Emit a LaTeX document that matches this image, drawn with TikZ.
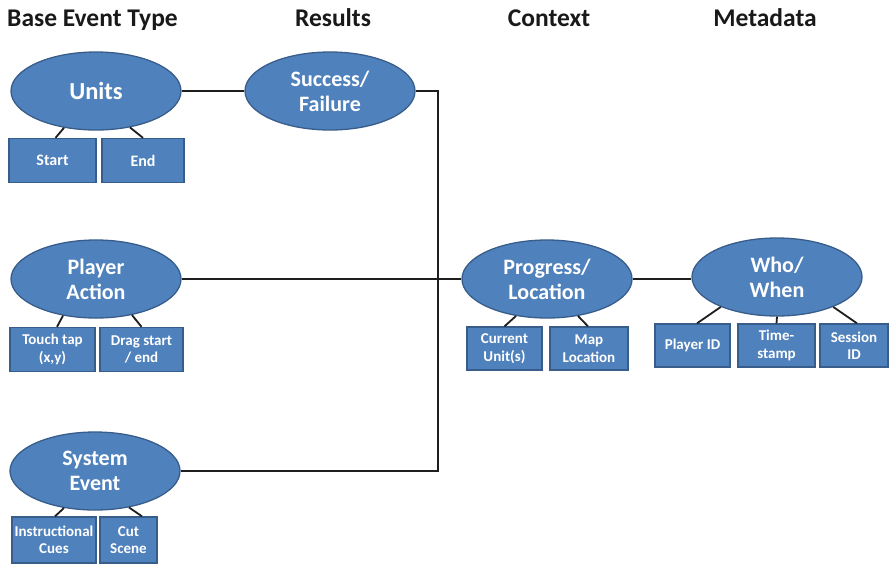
\documentclass[tikz,border=0pt]{standalone}
\usepackage{fontspec}
\setmainfont{Carlito}
\usetikzlibrary{shapes.geometric}
\definecolor{nodefill}{RGB}{79,129,189}
\definecolor{nodeedge}{RGB}{56,93,138}
\definecolor{wire}{RGB}{30,30,30}
\definecolor{headtext}{RGB}{25,25,25}
\begin{document}
\begin{tikzpicture}[x=1pt,y=-1pt,
  category/.style={ellipse, fill=nodefill, draw=nodeedge, line width=1.3pt,
    minimum width=170pt, minimum height=78pt, inner sep=0pt, text=white,
    font=\bfseries\fontsize{22}{25}\selectfont, align=center},
  detail/.style={rectangle, fill=nodefill, draw=nodeedge, line width=1.3pt,
    minimum height=44pt, inner sep=0pt, text=white,
    font=\bfseries\fontsize{15}{17.5}\selectfont, align=center},
  heading/.style={anchor=base, text=headtext, inner sep=0pt,
    font=\bfseries\fontsize{25.5}{30}\selectfont},
  link/.style={draw=wire, line width=1.8pt}]
\useasboundingbox (0,0) rectangle (890,563);
\fill[white] (0,0) rectangle (890,563);

% column headings
\node[heading, anchor=base west] (hBase) at (7,26) {Base Event Type};
\node[heading] (hResults) at (333,26) {Results};
\node[heading] (hContext) at (549,26) {Context};
\node[heading] (hMeta) at (765,26) {Metadata};

% base event types
\node[category, font=\bfseries\fontsize{24.5}{28}\selectfont] (units) at (96,91) {Units};
\node[detail, minimum width=87pt, font=\bfseries\fontsize{16}{18}\selectfont] (start) at (52.5,160.5) {Start};
\node[detail, minimum width=82pt, font=\bfseries\fontsize{16}{18}\selectfont] (end) at (143,160.5) {End};

\node[category] (player) at (96,279) {Player\\Action};
\node[detail, minimum width=85pt] (touch) at (52.5,349.5) {Touch tap\\(x,y)};
\node[detail, minimum width=83pt] (drag) at (141.5,349.5) {Drag start\\/ end};

\node[category] (system) at (95,471) {System\\Event};
\node[detail, minimum width=84pt, minimum height=46pt] (cues) at (54,540) {Instructional\\Cues};
\node[detail, minimum width=57pt, minimum height=46pt] (cut) at (128.5,540) {Cut\\Scene};

% results
\node[category] (result) at (330,91) {Success/\\Failure};

% context
\node[category] (progress) at (547,279) {Progress/\\Location};
\node[detail, minimum width=75pt, minimum height=43pt] (current) at (504.5,348.5) {Current\\Unit(s)};
\node[detail, minimum width=78pt, minimum height=43pt] (maploc) at (589,348.5) {Map\\Location};

% metadata
\node[category] (who) at (777,277) {Who/\\When};
\node[detail, minimum width=75pt, minimum height=43pt] (pid) at (692.5,345.5) {Player ID};
\node[detail, minimum width=77pt, minimum height=43pt] (stamp) at (776.5,345.5) {Time-\\stamp};
\node[detail, minimum width=68pt, minimum height=43pt] (session) at (854,345.5) {Session\\ID};

% vertical collector line
\coordinate (bus) at (438,0);

% main connections
\draw[link] (units.east) -- (result.west);
\draw[link] (result.east) -- (result.east -| bus) |- (system.east);
\draw[link] (player.east) -- (progress.west);
\draw[link] (progress.east) -- (who.west |- progress.east);

% sub-item ties
\draw[link] (units.229) -- ([xshift=3pt]start.north);
\draw[link] (units.313) -- (end.north);
\draw[link] (player.228) -- ([xshift=4.5pt]touch.north);
\draw[link] (player.315) -- (drag.north);
\draw[link] (system.230) -- ([xshift=1pt]cues.north);
\draw[link] (system.313) -- ([xshift=13.5pt]cut.north);
\draw[link] (progress.230) -- (current.north);
\draw[link] (progress.310) -- ([xshift=-1pt]maploc.north);
\draw[link] (who.208) -- ([xshift=4.5pt]pid.north);
\draw[link] (who.south) -- (stamp.north);
\draw[link] (who.332) -- ([xshift=3pt]session.north);
\end{tikzpicture}
\end{document}
